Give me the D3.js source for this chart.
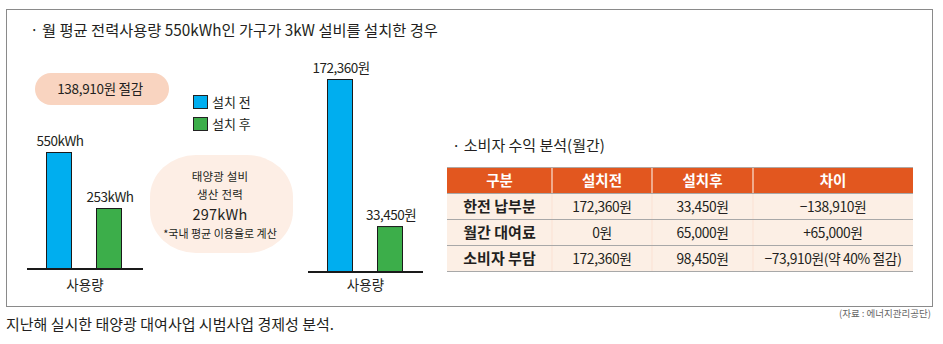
<!DOCTYPE html>
<html><head><meta charset="utf-8">
<script src="https://cdn.jsdelivr.net/npm/d3@7"></script>
<style>
html,body{margin:0;padding:0;background:#fff;}
text{font-family:"Noto Sans CJK KR","Noto Sans",sans-serif;fill:#231f20;}
</style></head>
<body><svg id="c" width="943" height="344"></svg>
<script>
// ---- data ----
const title = "· 월 평균 전력사용량 550kWh인 가구가 3kW 설비를 설치한 경우";
const seriesNames = ["설치 전", "설치 후"];
const usageValues = [550, 253];
const usageLabels = ["550kWh", "253kWh"];
const costValues = [172360, 33450];
const costLabels = ["172,360원", "33,450원"];
const axisLabel = "사용량";
const savingText = "138,910원 절감";
const solarLines = ["태양광 설비", "생산 전력", "297kWh", "*국내 평균 이용율로 계산"];
const tableTitle = "· 소비자 수익 분석(월간)";
const tableHeaders = ["구분", "설치전", "설치후", "차이"];
const rowLabels = ["한전 납부분", "월간 대여료", "소비자 부담"];
const colBefore = ["172,360원", "0원", "172,360원"];
const colAfter = ["33,450원", "65,000원", "98,450원"];
const colDiff = ["−138,910원", "+65,000원", "−73,910원(약 40% 절감)"];
const caption = "지난해 실시한 태양광 대여사업 시범사업 경제성 분석.";
const source = "(자료 : 에너지관리공단)";
const colors = ["#00aeef", "#3cae4a"];

const svg = d3.select("#c");

// frame
svg.append("rect").attr("x", 6.5).attr("y", 9.5).attr("width", 926).attr("height", 297)
  .attr("fill", "none").attr("stroke", "#8a8a8a").attr("stroke-width", 1);

svg.append("text").attr("x", 30).attr("y", 36).attr("font-size", 15.3).text(title);

// saving pill
svg.append("rect").attr("x", 35).attr("y", 73).attr("width", 134).attr("height", 32)
  .attr("rx", 16).attr("fill", "#f9d4c0");
svg.append("text").attr("x", 100).attr("y", 93.5).attr("text-anchor", "middle")
  .attr("font-size", 13.5).attr("letter-spacing", -0.3).text(savingText);

// legend
const lg = svg.append("g");
seriesNames.forEach((n, i) => {
  lg.append("rect").attr("x", 193.5).attr("y", 95.5 + i * 22).attr("width", 14).attr("height", 13)
    .attr("fill", colors[i]).attr("stroke", "#222").attr("stroke-width", 1);
  lg.append("text").attr("x", 212).attr("y", 107 + i * 22).attr("font-size", 13).text(n);
});

// solar blob
svg.append("rect").attr("x", 150).attr("y", 155).attr("width", 143).attr("height", 98)
  .attr("rx", 46).attr("ry", 42).attr("fill", "#fdeee5");
const blobY = [181, 199, 219.5, 237.5];
const blobSize = [11.5, 11.5, 14.5, 11];
solarLines.forEach((t, i) => {
  svg.append("text").attr("x", 220).attr("y", blobY[i]).attr("text-anchor", "middle")
    .attr("font-size", blobSize[i]).attr("letter-spacing", i === 3 ? 0 : 0.2)
    .text(t);
});

// bar chart helper
function barChart(values, labels, x0, baseY, topY, dMin, lineX0, lineX1) {
  const x = d3.scaleBand().domain(seriesNames).range([x0, x0 + 100])
    .paddingInner(0.48).paddingOuter(0.24);
  const y = d3.scaleLinear().domain([dMin, d3.max(values)]).range([baseY, topY]);
  const g = svg.append("g");
  g.selectAll("rect").data(values).join("rect")
    .attr("x", (d, i) => x(seriesNames[i]) + 0.5)
    .attr("y", d => y(d) + 0.5)
    .attr("width", x.bandwidth() - 1)
    .attr("height", d => baseY - y(d))
    .attr("fill", (d, i) => colors[i]).attr("stroke", "#1a1a1a").attr("stroke-width", 1);
  g.selectAll("text.v").data(values).join("text").attr("class", "v")
    .attr("x", (d, i) => x(seriesNames[i]) + x.bandwidth() / 2 + 1)
    .attr("y", d => y(d) - 6)
    .attr("text-anchor", "middle").attr("font-size", 13.5).attr("letter-spacing", -0.5)
    .text((d, i) => labels[i]);
  g.append("line").attr("x1", lineX0).attr("x2", lineX1).attr("y1", baseY + 1).attr("y2", baseY + 1)
    .attr("stroke", "#1a1a1a").attr("stroke-width", 2);
  g.append("text").attr("x", (lineX0 + lineX1) / 2).attr("y", 290)
    .attr("text-anchor", "middle").attr("font-size", 13.5).text(axisLabel);
}
barChart(usageValues, usageLabels, 34, 268, 152, -65, 27, 143);
barChart(costValues, costLabels, 315, 271, 79, -9000, 308, 423);

// table
svg.append("text").attr("x", 452).attr("y", 151).attr("font-size", 15).text(tableTitle);
const colX = [447, 552, 652, 753, 913];
const rowY = [167, 193, 219, 245, 271];
const tg = svg.append("g");
tg.append("rect").attr("x", colX[0]).attr("y", rowY[0]).attr("width", colX[4] - colX[0]).attr("height", rowY[1] - rowY[0])
  .attr("fill", "#e2571f");
tg.append("rect").attr("x", colX[0]).attr("y", rowY[1]).attr("width", colX[4] - colX[0]).attr("height", rowY[4] - rowY[1])
  .attr("fill", "#fcefe5");
[1, 2, 3].forEach(c => {
  tg.append("line").attr("x1", colX[c]).attr("x2", colX[c]).attr("y1", rowY[0]).attr("y2", rowY[4])
    .attr("stroke", "#fbe3d6").attr("stroke-width", 1.2);
});
rowY.forEach((yy, i) => {
  tg.append("line").attr("x1", colX[0]).attr("x2", colX[4]).attr("y1", yy + 0.5).attr("y2", yy + 0.5)
    .attr("stroke", i === 0 ? "#b0a8a4" : "#a8a8a8").attr("stroke-width", 1.2);
});
const cx = c => (colX[c] + colX[c + 1]) / 2;
tableHeaders.forEach((h, c) => {
  tg.append("text").attr("x", cx(c)).attr("y", 185.5).attr("text-anchor", "middle")
    .attr("font-size", 14.5).attr("font-weight", 700).style("fill", "#fff").text(h);
});
const cols = [rowLabels, colBefore, colAfter, colDiff];
rowLabels.forEach((r, i) => {
  cols.forEach((col, c) => {
    tg.append("text").attr("x", cx(c)).attr("y", rowY[i + 1] + 18.5).attr("text-anchor", "middle")
      .attr("font-size", c === 0 ? 15 : 13.8).attr("font-weight", c === 0 ? 700 : 400)
      .attr("letter-spacing", c === 0 ? 0 : -0.4).text(col[i]);
  });
});

// caption & source
svg.append("text").attr("x", 6).attr("y", 330).attr("font-size", 15).text(caption);
svg.append("text").attr("x", 931).attr("y", 317).attr("text-anchor", "end")
  .attr("font-size", 9.5).style("fill", "#666").text(source);
</script></body></html>
